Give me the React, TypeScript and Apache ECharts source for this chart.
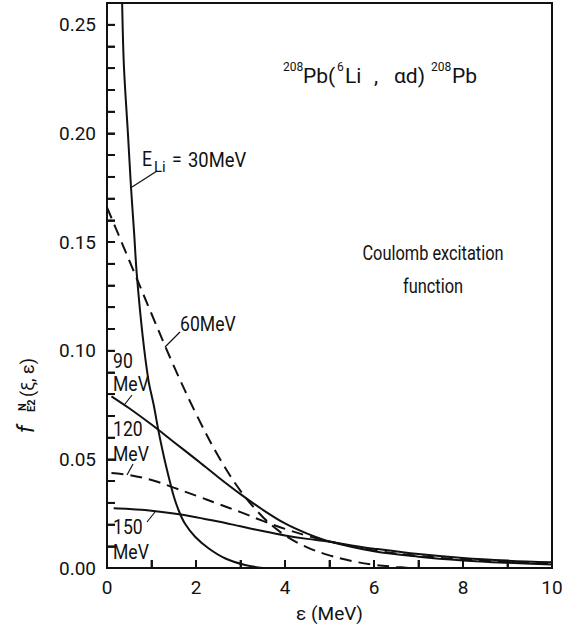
import React, { useEffect, useRef } from "react";
import * as echarts from "echarts";

// E_Li = 30 MeV (solid)
const eps30 = [0.32, 0.34, 0.38, 0.47, 0.54, 0.61, 0.67, 0.8, 0.93, 1.05, 1.15, 1.27, 1.38, 1.5, 1.62, 1.75, 1.98, 2.28, 2.65, 3.1, 3.5];
const f30 = [0.285, 0.26, 0.231, 0.2, 0.175, 0.154, 0.135, 0.107, 0.0866, 0.075, 0.0638, 0.052, 0.0425, 0.033, 0.026, 0.0205, 0.0144, 0.0091, 0.0045, 0.0014, 0.0];
// 60 MeV (dashed)
const eps60 = [0, 0.5, 1.0, 1.5, 2.0, 2.5, 3.0, 3.5, 4.0, 4.5, 5.0, 5.5, 6.0, 6.5, 6.8];
const f60 = [0.166, 0.1415, 0.117, 0.093, 0.071, 0.0515, 0.0355, 0.0235, 0.015, 0.0095, 0.0058, 0.0032, 0.0015, 0.0005, 0.0];
// 90 MeV (solid)
const eps90 = [0.1, 0.5, 1.0, 1.5, 2.0, 2.5, 3.0, 3.5, 4.0, 4.5, 5, 6, 7, 8, 9, 10];
const f90 = [0.079, 0.0735, 0.066, 0.058, 0.05, 0.0418, 0.034, 0.0268, 0.0205, 0.0158, 0.0122, 0.0077, 0.0052, 0.0035, 0.0024, 0.0016];
// 120 MeV (dashed)
const eps120 = [0.1, 0.5, 1.0, 1.5, 2.0, 2.5, 3.0, 3.5, 4.0, 4.5, 5, 6, 7, 8, 9, 10];
const f120 = [0.0437, 0.0428, 0.0405, 0.037, 0.0333, 0.0295, 0.0257, 0.0217, 0.018, 0.0148, 0.0122, 0.0081, 0.0056, 0.0039, 0.0029, 0.0021];
// 150 MeV (solid)
const eps150 = [0.15, 0.5, 1.0, 1.5, 2.0, 2.5, 3.0, 3.5, 4.0, 4.5, 5, 5.5, 6, 7, 8, 9, 10];
const f150 = [0.0275, 0.0272, 0.0264, 0.0251, 0.0234, 0.0214, 0.0192, 0.017, 0.015, 0.0134, 0.0121, 0.0104, 0.0089, 0.0064, 0.0046, 0.0034, 0.0026];

// tick positions and labels
const xTicks = [1, 2, 3, 4, 5, 6, 7, 8, 9];
const yTicks = [0.01, 0.02, 0.03, 0.04, 0.05, 0.06, 0.07, 0.08, 0.09, 0.1, 0.11, 0.12, 0.13, 0.14, 0.15, 0.16, 0.17, 0.18, 0.19, 0.2, 0.21, 0.22, 0.23, 0.24, 0.25];
const xLabelValues = [0, 2, 4, 6, 8, 10];
const yLabelValues = [0, 0.05, 0.1, 0.15, 0.2, 0.25];

const FONT = "Roboto, 'DejaVu Sans', sans-serif";
const INK = "#111";

export default function App() {
  const ref = useRef<HTMLDivElement>(null);
  useEffect(() => {
    const chart = echarts.init(ref.current!, null, { renderer: "svg" });
    const pair = (xs: number[], ys: number[]) => xs.map((x, i) => [x, ys[i]]);
    const solid = { color: INK, width: 2, type: "solid" as any };
    const dashed = { color: INK, width: 2, type: [12, 7] as any };
    const mk = (name: string, xs: number[], ys: number[], ls: any) => ({
      type: "line",
      name,
      data: pair(xs, ys),
      showSymbol: false,
      symbol: "none",
      smooth: 0.35,
      lineStyle: ls,
      clip: true,
      z: 3,
      silent: true,
    });
    // tick length expressed in axis units (about 8 px at this plot size)
    const X_TICK_LEN = 0.0037; // along y, for the ε ticks
    const Y_TICK_LEN = 0.18; // along x, for the f ticks
    const tickSeries = (name: string, a: number[], b: number[]) => ({
      type: "line",
      name,
      data: [a, b],
      showSymbol: false,
      symbol: "none",
      smooth: false,
      lineStyle: { color: INK, width: 1.8, type: "solid" },
      clip: false,
      z: 4,
      silent: true,
    });
    const txt = (text: string, x: number, y: number, size = 19, extra: any = {}, el: any = {}) => ({
      type: "text",
      x,
      y,
      z: 10,
      ...el,
      style: {
        text,
        fontSize: size,
        fontFamily: FONT,
        fill: INK,
        textAlign: "left",
        textVerticalAlign: "middle",
        ...extra,
      },
    });
    const sx = { scaleX: 0.88 };
    const leader = (x1: number, y1: number, x2: number, y2: number) => ({
      type: "line",
      z: 10,
      shape: { x1, y1, x2, y2 },
      style: { stroke: INK, lineWidth: 1.2 },
    });

    const annotations: any[] = [
      // y axis title (rotated)
      {
        type: "group",
        x: 33,
        y: 433,
        rotation: Math.PI / 2,
        children: [
          txt("f", 0, -7, 23, { fontStyle: "italic" }),
          txt("N", 22, -10.5, 11, { fontWeight: "bold" }),
          txt("E2", 21, -2, 11, { fontWeight: "bold" }),
          txt("(ξ, ε)", 36, -6, 18),
        ],
      },
      // reaction title
      txt("208", 283, 67, 12),
      txt("Pb(", 303, 76, 21),
      txt("6", 337, 67, 12),
      txt("Li", 345, 76, 21),
      txt(",", 374, 76, 21),
      txt("αd)", 394, 76, 21),
      txt("208", 431, 67, 12),
      txt("Pb", 452, 76, 21),
      // description
      txt("Coulomb excitation", 433, 253, 20, { textAlign: "center" }, { scaleX: 0.82 }),
      txt("function", 433, 286, 20, { textAlign: "center" }, { scaleX: 0.82 }),
      // curve labels
      txt("E", 142, 160, 20, {}, sx),
      txt("Li", 154, 167, 15),
      txt("=", 172, 160, 20, {}, sx),
      txt("30MeV", 188, 160, 20, {}, { scaleX: 0.92 }),
      leader(157, 171, 132, 187),
      txt("60MeV", 180, 325, 20, {}, sx),
      leader(180, 332, 165, 347),
      txt("90", 113, 362, 20, {}, sx),
      txt("MeV", 113, 385, 20, {}, sx),
      leader(132, 395, 125, 404),
      txt("120", 113, 430, 20, {}, sx),
      txt("MeV", 113, 455, 20, {}, sx),
      leader(133, 464, 127, 475),
      txt("150", 113, 528, 20, {}, sx),
      txt("MeV", 113, 553, 20, {}, sx),
      leader(147, 522, 155, 512),
    ];

    chart.setOption({
      animation: false,
      backgroundColor: "#fff",
      grid: {
        left: 107,
        right: 15,
        top: 3,
        bottom: 68,
        show: true,
        backgroundColor: "rgba(0,0,0,0)",
        borderColor: INK,
        borderWidth: 2,
        containLabel: false,
      },
      xAxis: {
        type: "value",
        min: 0,
        max: 10,
        interval: 1,
        name: "ε (MeV)",
        nameLocation: "middle",
        nameGap: 36,
        nameTextStyle: { fontSize: 19, fontFamily: FONT, color: INK },
        axisLine: { show: true, onZero: false, lineStyle: { color: INK, width: 2 } },
        axisTick: { show: true, inside: true, length: 8, lineStyle: { color: INK, width: 1.8 } },
        axisLabel: {
          show: true,
          margin: 10,
          fontSize: 19,
          fontFamily: FONT,
          color: INK,
          formatter: (v: number) => (xLabelValues.includes(v) ? String(v) : ""),
        },
        splitLine: { show: false },
      },
      yAxis: {
        type: "value",
        min: 0,
        max: 0.26,
        interval: 0.01,
        axisLine: { show: true, onZero: false, lineStyle: { color: INK, width: 2 } },
        axisTick: { show: true, inside: true, length: 8, lineStyle: { color: INK, width: 1.8 } },
        axisLabel: {
          show: true,
          margin: 11,
          fontSize: 19,
          fontFamily: FONT,
          color: INK,
          showMaxLabel: false,
          formatter: (v: number) => (yLabelValues.some((t) => Math.abs(t - v) < 1e-6) ? v.toFixed(2) : ""),
        },
        splitLine: { show: false },
      },
      series: [
        mk("30 MeV", eps30, f30, solid),
        mk("60 MeV", eps60, f60, dashed),
        mk("90 MeV", eps90, f90, solid),
        mk("120 MeV", eps120, f120, dashed),
        mk("150 MeV", eps150, f150, solid),
        ...xTicks.map((v) => tickSeries("xtick" + v, [v, 0], [v, X_TICK_LEN])),
        ...yTicks.map((v) => tickSeries("ytick" + v, [0, v], [Y_TICK_LEN, v])),
      ],
      graphic: annotations,
    });

    return () => chart.dispose();
  }, []);
  return <div ref={ref} style={{ position: "fixed", left: 0, top: 0, width: 567, height: 636, background: "#fff" }} />;
}
